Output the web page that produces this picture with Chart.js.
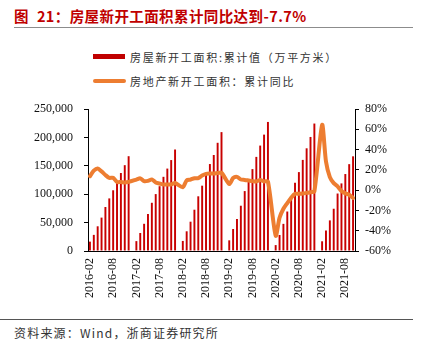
<!DOCTYPE html>
<html>
<head>
<meta charset="utf-8">
<script src="https://cdn.jsdelivr.net/npm/chart.js@4"></script>
<style>
  body { margin: 0; width: 424px; height: 342px; background: #fff; position: relative; overflow: hidden; }
  .title { position: absolute; left: 14px; top: 5px; font: bold 14.5px "Noto Sans CJK SC", sans-serif; color: #C00000; white-space: nowrap; letter-spacing: 0.4px; }
  .title .num { margin-left: 8px; }
  .rule-top { position: absolute; left: 14px; top: 27px; width: 399px; height: 1px; background: #8c8c8c; }
  .legend { position: absolute; left: 93px; font: 11px "Noto Sans CJK SC", sans-serif; letter-spacing: 1.7px; color: #333; white-space: nowrap; }
  .legend .sw { position: absolute; left: 0; }
  .legend span.t { position: absolute; left: 37px; top: 0; }
  .rule-bottom { position: absolute; left: 0; top: 319px; width: 413px; height: 1px; background: #555; }
  .source { position: absolute; left: 14px; top: 324px; font: 12px "Noto Sans CJK SC", sans-serif; letter-spacing: 1.2px; color: #333; white-space: nowrap; }
  #wrap { position: absolute; left: 0; top: 90px; width: 424px; height: 222px; }
</style>
</head>
<body>
<div class="title">图<span class="num">21：房屋新开工面积累计同比达到-7.7%</span></div>
<div class="rule-top"></div>
<div class="legend" style="top:49px;"><div class="sw" style="top:5px;width:32px;height:5px;background:#C00000;"></div><span class="t">房屋新开工面积:累计值（万平方米）</span></div>
<div class="legend" style="top:73px;"><div class="sw" style="top:6px;width:33px;height:4px;border-radius:2px;background:#ED7D31;"></div><span class="t">房地产新开工面积：累计同比</span></div>
<div id="wrap"><canvas id="chart"></canvas></div>
<div class="rule-bottom"></div>
<div class="source">资料来源：Wind，浙商证券研究所</div>
<script>
// months shown: 2016-02 .. 2021-10 (January has no own value)
const startYear = 2016;
const endYear = 2021;
const lastMonth = 10;

// 房屋新开工面积:累计值 (万平方米), null = January
const area2016 = [16500, 28400, 43500, 58800, 77500, 92600, 106900, 122600, 137300, 151100, 166900];
const area2017 = [null, 17400, 31700, 47900, 65000, 84900, 100200, 114100, 130600, 145100, 160100, 178700];
const area2018 = [null, 17700, 34700, 51600, 72700, 96300, 115000, 136500, 153100, 169000, 190500, 209300];
const area2019 = [null, 18800, 38700, 56500, 79700, 105500, 124400, 144200, 165700, 185600, 204900, 227200];
const area2020 = [null, 10400, 28200, 47800, 69500, 95000, 120100, 138900, 160400, 180800, 200800, 224400];
const area2021 = [null, 17100, 36200, 53900, 74400, 101200, 119000, 135500, 152900, 166700];

// 房地产新开工面积:累计同比 (%)
const yoy2016 = [13.7, 19.2, 21.4, 18.5, 14.9, 12.1, 12.2, 8.0, 8.0, 7.6, 8.1];
const yoy2017 = [null, 10.4, 11.6, 8.8, 9.1, 10.6, 7.6, 6.6, 5.5, 5.6, 5.5, 7.0];
const yoy2018 = [null, 2.9, 9.7, 10.4, 11.8, 11.8, 14.4, 16.1, 16.4, 16.3, 16.8, 17.2];
const yoy2019 = [null, 6.0, 11.9, 13.1, 10.5, 10.1, 9.5, 8.9, 8.6, 10.0, 8.6, 8.5];
const yoy2020 = [null, -44.9, -27.2, -18.4, -12.8, -7.6, -3.6, -3.6, -3.4, -2.7, -2.0, -1.2];
const yoy2021 = [null, 64.3, 28.2, 12.8, 6.9, 3.8, -0.9, -3.2, -4.5, -7.7];

const leftTicks = [0, 50000, 100000, 150000, 200000, 250000];
const rightTicks = [-60, -40, -20, 0, 20, 40, 60, 80];

const labels = [];
for (let y = startYear; y <= endYear; y++) {
    const first = y === startYear ? 2 : 1;
    const last = y === endYear ? lastMonth : 12;
    for (let m = first; m <= last; m++) {
        labels.push(y + '-' + String(m).padStart(2, '0'));
    }
}

const areaData = [].concat(area2016, area2017, area2018, area2019, area2020, area2021);
const yoyData = [].concat(yoy2016, yoy2017, yoy2018, yoy2019, yoy2020, yoy2021);

const tickFont = { family: '"Liberation Serif", serif', size: 12 };

new Chart(document.getElementById('chart'), {
    type: 'bar',
    data: {
        labels: labels,
        datasets: [{
            type: 'line',
            label: '房地产新开工面积：累计同比',
            data: yoyData,
            yAxisID: 'y1',
            borderColor: '#ED7D31',
            borderWidth: 4,
            pointRadius: 0,
            tension: 0.25,
            spanGaps: true,
            borderCapStyle: 'round',
            borderJoinStyle: 'round',
            order: 0
        }, {
            type: 'bar',
            label: '房屋新开工面积:累计值（万平方米）',
            data: areaData,
            yAxisID: 'y',
            backgroundColor: '#C80000',
            barPercentage: 0.5,
            categoryPercentage: 1,
            order: 1
        }]
    },
    options: {
        responsive: true,
        maintainAspectRatio: false,
        animation: false,
        layout: { padding: { top: 19, left: 0, right: 0, bottom: 0 } },
        plugins: {
            legend: { display: false },
            tooltip: { enabled: false }
        },
        scales: {
            x: {
                offset: true,
                grid: { display: false, drawTicks: false },
                border: { display: true, color: '#000', width: 1 },
                ticks: {
                    autoSkip: false,
                    maxRotation: 90,
                    minRotation: 90,
                    padding: 7,
                    color: '#111',
                    font: tickFont,
                    callback: function(value, index) {
                        return index % 6 === 0 ? labels[index] : '';
                    }
                },
                afterFit: function(scale) { scale.height = 61; }
            },
            y: {
                position: 'left',
                min: 0,
                max: 250000,
                afterBuildTicks: function(scale) {
                    scale.ticks = leftTicks.map(v => ({ value: v }));
                },
                grid: { display: true, drawOnChartArea: false, drawTicks: true, tickLength: 4, color: '#000' },
                border: { display: true, color: '#000', width: 1 },
                ticks: {
                    padding: 11,
                    color: '#111',
                    font: tickFont,
                    callback: function(value) {
                        return value.toLocaleString('en-US');
                    }
                },
                afterFit: function(scale) { scale.width = 88; }
            },
            y1: {
                position: 'right',
                min: -60,
                max: 80,
                afterBuildTicks: function(scale) {
                    scale.ticks = rightTicks.map(v => ({ value: v }));
                },
                grid: { display: true, drawOnChartArea: false, drawTicks: true, tickLength: 4, color: '#000' },
                border: { display: true, color: '#000', width: 1 },
                ticks: {
                    padding: 6,
                    color: '#111',
                    font: tickFont,
                    callback: function(value) {
                        return value + '%';
                    }
                },
                afterFit: function(scale) { scale.width = 69; }
            }
        }
    }
});
</script>
</body>
</html>
